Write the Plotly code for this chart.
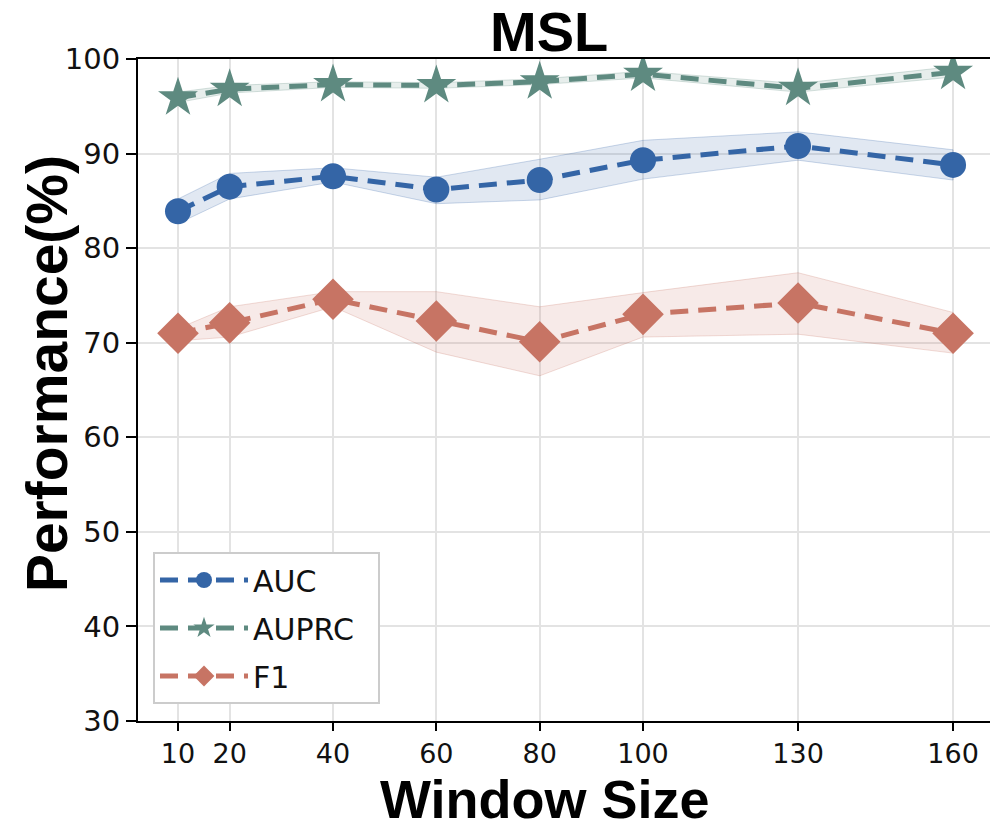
import plotly.graph_objects as go

window_sizes = [10, 20, 40, 60, 80, 100, 130, 160]
x_tick_labels = ["10", "20", "40", "60", "80", "100", "130", "160"]

auc_mean = [83.9, 86.5, 87.6, 86.2, 87.2, 89.3, 90.8, 88.8]
auc_upper = [85.2, 87.9, 88.5, 87.5, 89.4, 91.4, 92.3, 90.4]
auc_lower = [82.6, 85.2, 87.0, 84.7, 85.1, 87.3, 89.3, 87.2]

auprc_mean = [95.9, 96.8, 97.3, 97.2, 97.6, 98.4, 96.9, 98.6]
auprc_upper = [96.5, 97.2, 97.6, 97.5, 97.9, 98.7, 97.4, 99.2]
auprc_lower = [95.4, 96.4, 97.0, 96.9, 97.3, 98.0, 96.5, 98.1]

f1_mean = [71.0, 72.1, 74.6, 72.3, 70.1, 73.0, 74.2, 71.0]
f1_upper = [71.5, 73.8, 75.4, 75.4, 73.8, 75.3, 77.4, 73.2]
f1_lower = [70.2, 70.6, 73.8, 69.0, 66.5, 70.6, 70.9, 68.9]

series = [
    ("AUC", auc_mean, auc_upper, auc_lower, "#3465A6", "rgba(52,101,166,0.15)", "circle", 26),
    ("AUPRC", auprc_mean, auprc_upper, auprc_lower, "#5E8A80", "rgba(94,138,128,0.15)", "star", 30),
    ("F1", f1_mean, f1_upper, f1_lower, "#C77464", "rgba(199,116,100,0.15)", "diamond", 32),
]

fig = go.Figure()
for name, mean, up, lo, col, fillc, sym, msize in series:
    fig.add_trace(go.Scatter(
        x=window_sizes + window_sizes[::-1],
        y=up + lo[::-1],
        fill="toself", fillcolor=fillc,
        line=dict(color=fillc.replace("0.15", "0.25"), width=1),
        mode="lines", hoverinfo="skip", showlegend=False,
    ))

for name, mean, up, lo, col, fillc, sym, msize in series:
    fig.add_trace(go.Scatter(
        x=window_sizes, y=mean, name=name + "\u00a0\u00a0", mode="lines+markers",
        legendgroup=name,
        line=dict(color=col, width=5, dash="18px,10px"),
        marker=dict(symbol=sym, size=msize, color=col, line=dict(width=0)),
    ))

fig.update_layout(
    width=990, height=825,
    margin=dict(l=138, r=0, t=59, b=104),
    plot_bgcolor="white", paper_bgcolor="white",
    font=dict(family="DejaVu Sans", color="black"),
    showlegend=True,
    legend=dict(
        x=0.0176, y=0.0257, xanchor="left", yanchor="bottom",
        bgcolor="white", bordercolor="#cccccc", borderwidth=2,
        font=dict(family="DejaVu Sans", size=30, color="#111111"),
        tracegroupgap=6, itemwidth=88,
    ),
    xaxis=dict(
        range=[2.26, 167.15], tickmode="array", tickvals=window_sizes, ticktext=x_tick_labels,
        showgrid=True, gridcolor="#e3e3e3", gridwidth=1.5,
        showline=True, linecolor="black", linewidth=2, mirror=True,
        ticks="outside", ticklen=8, tickwidth=2, tickcolor="black",
        tickfont=dict(family="DejaVu Sans", size=27, color="#111111"),
        zeroline=False,
    ),
    yaxis=dict(
        range=[30, 100], tickmode="array", tickvals=[30, 40, 50, 60, 70, 80, 90, 100],
        showgrid=True, gridcolor="#e3e3e3", gridwidth=1.5,
        showline=True, linecolor="black", linewidth=2,
        ticks="outside", ticklen=10, tickwidth=2, tickcolor="black",
        tickfont=dict(family="DejaVu Sans", size=29, color="#111111"),
        zeroline=False,
    ),
    annotations=[
        dict(text="<b>MSL</b>", xref="paper", yref="paper", x=0.4824, y=1.0408,
             xanchor="center", yanchor="middle", showarrow=False,
             font=dict(family="Liberation Sans", size=56, color="black")),
        dict(text="<b>Window Size</b>", xref="paper", yref="paper", x=0.4777, y=-0.118,
             xanchor="center", yanchor="middle", showarrow=False, height=46,
             font=dict(family="Liberation Sans", size=54, color="black")),
        dict(text="<b>Performance(%)</b>", xref="paper", yref="paper", x=-0.1068, y=0.524,
             xanchor="center", yanchor="middle", showarrow=False, textangle=-90,
             font=dict(family="Liberation Sans", size=57, color="black")),
    ],
)

fig.write_html("out.html")
